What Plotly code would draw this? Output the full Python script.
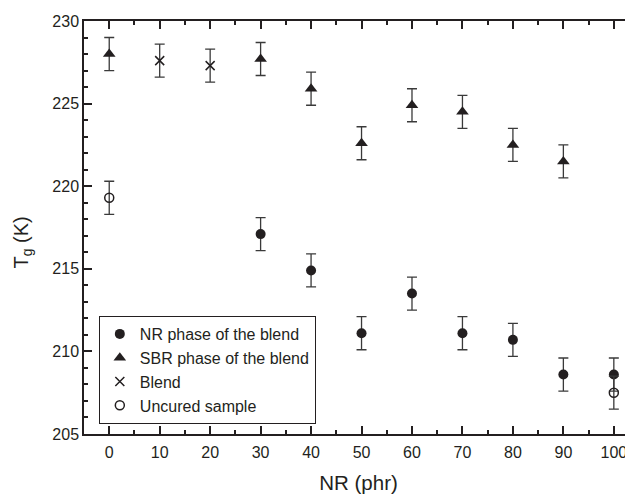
import plotly.graph_objects as go

# Data
nr_x = [30, 40, 50, 60, 70, 80, 90, 100]
nr_y = [217.1, 214.9, 211.1, 213.5, 211.1, 210.7, 208.6, 208.6]
nr_err = [1, 1, 1, 1, 1, 1, 1, 1]

sbr_x = [0, 30, 40, 50, 60, 70, 80, 90]
sbr_y = [228.0, 227.7, 225.9, 222.6, 224.9, 224.5, 222.5, 221.5]
sbr_err = [1, 1, 1, 1, 1, 1, 1, 1]

blend_x = [10, 20]
blend_y = [227.6, 227.3]
blend_err = [1, 1]

uncured_x = [0, 100]
uncured_y = [219.3, 207.5]
uncured_err = [1, 1]

x_ticks = [0, 10, 20, 30, 40, 50, 60, 70, 80, 90, 100]
y_ticks = [205, 210, 215, 220, 225, 230]

x_title = "NR (phr)"
y_title = "T<sub>g</sub> (K)"

INK = "#231f20"
ERR = "#3a3a3a"
FONT = "Liberation Sans, Arial, sans-serif"


def err(arr):
    return dict(type="data", array=arr, visible=True, color=ERR, thickness=1.3, width=5)


fig = go.Figure()
fig.add_trace(go.Scatter(x=nr_x, y=nr_y, mode="markers", name="NR phase of the blend",
                         marker=dict(symbol="circle", size=10, color=INK),
                         error_y=err(nr_err)))
fig.add_trace(go.Scatter(x=sbr_x, y=sbr_y, mode="markers", name="SBR phase of the blend",
                         marker=dict(symbol="triangle-up", size=11, color=INK),
                         error_y=err(sbr_err)))
fig.add_trace(go.Scatter(x=blend_x, y=blend_y, mode="markers", name="Blend",
                         marker=dict(symbol="x-thin", size=9, color=INK,
                                     line=dict(width=1.5, color=INK)),
                         error_y=err(blend_err)))
fig.add_trace(go.Scatter(x=uncured_x, y=uncured_y, mode="markers", name="Uncured sample",
                         marker=dict(symbol="circle-open", size=9, color=INK,
                                     line=dict(width=1.5, color=INK)),
                         error_y=err(uncured_err)))
# invisible trace to carry right-side y ticks
fig.add_trace(go.Scatter(x=[0], y=[220], yaxis="y2", mode="markers",
                         marker=dict(opacity=0, size=1), showlegend=False, hoverinfo="skip"))

fig.add_annotation(text=y_title, xref="paper", yref="paper", x=-0.112, y=0.4625,
                   xanchor="center", yanchor="middle", textangle=-90, showarrow=False,
                   font=dict(size=20, family=FONT, color=INK))

fig.update_layout(
    width=625, height=486,
    margin=dict(l=76, r=0, t=13, b=60),
    paper_bgcolor="white", plot_bgcolor="white",
    font=dict(family=FONT, color=INK, size=16),
    showlegend=True,
    legend=dict(x=0.027, y=0.155, xanchor="left", yanchor="middle",
                bordercolor=INK, borderwidth=1, bgcolor="white",
                font=dict(size=16, family=FONT, color=INK),
                tracegroupgap=0, itemwidth=30, entrywidth=185, entrywidthmode="pixels"),
    xaxis=dict(range=[-5, 103.8], tickvals=x_ticks, ticktext=[str(v) for v in x_ticks],
               ticks="inside", ticklen=8, tickwidth=1.5, tickcolor=INK,
               showline=True, linecolor=INK, linewidth=1.5, mirror="ticks",
               showgrid=False, zeroline=False, ticklabelstandoff=3,
               minor=dict(dtick=5, tick0=0, ticks="inside", ticklen=4, tickwidth=1.5, tickcolor=INK),
               title=dict(text=x_title, font=dict(size=20.5), standoff=16),
               tickfont=dict(size=16)),
    yaxis=dict(range=[205, 230], tickvals=y_ticks,
               ticks="inside", ticklen=8, tickwidth=1.5, tickcolor=INK,
               showline=True, linecolor=INK, linewidth=1.5, mirror=False,
               showgrid=False, zeroline=False,
               minor=dict(dtick=1, tick0=205, ticks="inside", ticklen=4, tickwidth=1.5, tickcolor=INK),
               tickfont=dict(size=16)),
    yaxis2=dict(range=[205, 230], overlaying="y", side="right", tickvals=y_ticks,
                ticks="inside", ticklen=8, tickwidth=1.5, tickcolor=INK,
                showticklabels=False, showline=False, showgrid=False, zeroline=False),
)

fig.write_html("out.html")
